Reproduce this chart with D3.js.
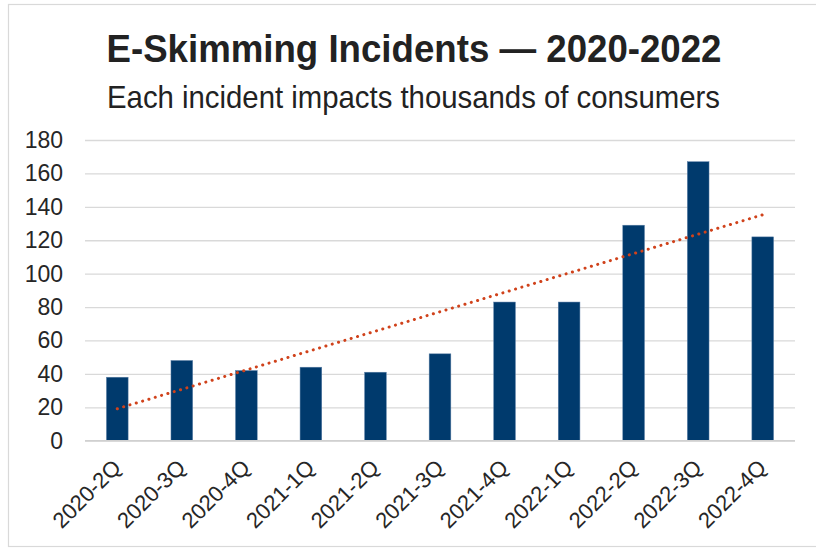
<!DOCTYPE html>
<html>
<head>
<meta charset="utf-8">
<script src="https://cdn.jsdelivr.net/npm/d3@7"></script>
<style>
  html, body { margin: 0; padding: 0; background: #fff; }
  svg { display: block; }
  svg text { font-family: "Liberation Sans", Arial, Helvetica, sans-serif; }
</style>
</head>
<body>
<svg id="chart" width="816" height="548"></svg>
<script>
// Quarterly e-skimming incident counts
const quarters = ["2020-2Q", "2020-3Q", "2020-4Q", "2021-1Q", "2021-2Q", "2021-3Q",
                  "2021-4Q", "2022-1Q", "2022-2Q", "2022-3Q", "2022-4Q"];
const incidents = [38, 48, 42, 44, 41, 52, 83, 83, 129, 167, 122];
const yTicks = [0, 20, 40, 60, 80, 100, 120, 140, 160, 180];

const titleText = "E-Skimming Incidents \u2014 2020-2022";
const subtitleText = "Each incident impacts thousands of consumers";

const FONT = "'Liberation Sans', Arial, Helvetica, sans-serif";
const svg = d3.select("#chart");
const W = 816;
const plot = { left: 85, right: 795, top: 140, bottom: 440.7 };

// Outer frame of the chart area (runs off the right edge)
svg.append("rect")
  .attr("x", 8.5).attr("y", 4.5)
  .attr("width", W + 10).attr("height", 542)
  .attr("fill", "#fff")
  .attr("stroke", "#d9d9d9").attr("stroke-width", 1.2);

// Titles (condensed to a fixed width)
svg.append("text")
  .attr("x", 414).attr("y", 61.5)
  .attr("text-anchor", "middle")
  .attr("font-family", FONT)
  .attr("font-size", 39).attr("font-weight", "bold")
  .attr("fill", "#222")
  .attr("textLength", 615).attr("lengthAdjust", "spacingAndGlyphs")
  .text(titleText);

svg.append("text")
  .attr("x", 413.5).attr("y", 108)
  .attr("text-anchor", "middle")
  .attr("font-family", FONT)
  .attr("font-size", 32)
  .attr("fill", "#222")
  .attr("textLength", 613).attr("lengthAdjust", "spacingAndGlyphs")
  .text(subtitleText);

// Scales
const x = d3.scaleBand()
  .domain(quarters)
  .range([plot.left, plot.right])
  .paddingInner(0.664)
  .paddingOuter(0.332);

const y = d3.scaleLinear()
  .domain([0, 180])
  .range([plot.bottom, plot.top]);

// Horizontal gridlines and value labels
const yAxis = d3.axisLeft(y).tickValues(yTicks).tickSize(-(plot.right - plot.left)).tickPadding(22);
const gy = svg.append("g")
  .attr("transform", `translate(${plot.left},0)`)
  .call(yAxis);
gy.select(".domain").remove();
gy.selectAll(".tick line").attr("stroke", "#d9d9d9").attr("stroke-width", 1.3);
gy.selectAll(".tick text")
  .attr("font-size", 23)
  .attr("fill", "#262626")
  .attr("font-family", FONT);

// Bars
svg.append("g").selectAll("rect")
  .data(quarters.map((q, i) => ({ q, v: incidents[i] })))
  .join("rect")
  .attr("x", d => x(d.q))
  .attr("y", d => y(d.v))
  .attr("width", x.bandwidth())
  .attr("height", d => y(0) - y(d.v))
  .attr("fill", "#003a6d")
  .attr("stroke", "#5b7fa6").attr("stroke-width", 0.5);

// Baseline
svg.append("line")
  .attr("x1", plot.left).attr("x2", plot.right)
  .attr("y1", y(0)).attr("y2", y(0))
  .attr("stroke", "#d0d0d0").attr("stroke-width", 1.4);

// Linear trend (least squares over the quarter index)
const n = incidents.length;
const xs = d3.range(1, n + 1);
const mx = d3.mean(xs), my = d3.mean(incidents);
const slope = d3.sum(xs, (v, i) => (v - mx) * (incidents[i] - my)) / d3.sum(xs, v => (v - mx) ** 2);
const intercept = my - slope * mx;
const trend = [
  { q: quarters[0], v: intercept + slope * 1 },
  { q: quarters[n - 1], v: intercept + slope * n }
];
svg.append("path")
  .datum(trend)
  .attr("d", d3.line().x(d => x(d.q) + x.bandwidth() / 2).y(d => y(d.v)))
  .attr("fill", "none")
  .attr("stroke", "#d0421b")
  .attr("stroke-width", 3)
  .attr("stroke-linecap", "round")
  .attr("stroke-dasharray", "0.1 6.5");

// Category labels, slanted
const gx = svg.append("g");
gx.selectAll("text")
  .data(quarters)
  .join("text")
  .attr("transform", q => `translate(${x(q) + x.bandwidth() / 2 + 5},${469}) rotate(-45)`)
  .attr("text-anchor", "end")
  .attr("font-family", FONT)
  .attr("font-size", 22)
  .attr("fill", "#262626")
  .text(q => q);
</script>
</body>
</html>
